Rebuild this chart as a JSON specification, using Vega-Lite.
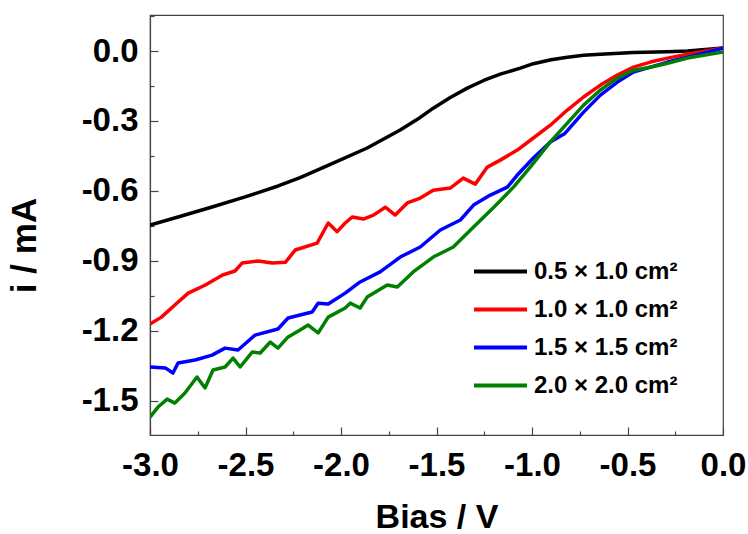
{
  "$schema": "https://vega.github.io/schema/vega-lite/v6.json",
  "width": 573,
  "height": 420,
  "autosize": "none",
  "padding": {"left": 150, "top": 15, "right": 25, "bottom": 99},
  "background": "white",
  "config": {
    "view": {"stroke": "#444444", "strokeWidth": 1.2},
    "font": "Liberation Sans"
  },
  "datasets": {
    "curves": [
      {"v": -3.0, "i": -0.747, "s": "0.5 × 1.0 cm²"},
      {"v": -2.853, "i": -0.712, "s": "0.5 × 1.0 cm²"},
      {"v": -2.675, "i": -0.669, "s": "0.5 × 1.0 cm²"},
      {"v": -2.502, "i": -0.626, "s": "0.5 × 1.0 cm²"},
      {"v": -2.329, "i": -0.579, "s": "0.5 × 1.0 cm²"},
      {"v": -2.214, "i": -0.543, "s": "0.5 × 1.0 cm²"},
      {"v": -2.041, "i": -0.481, "s": "0.5 × 1.0 cm²"},
      {"v": -1.863, "i": -0.416, "s": "0.5 × 1.0 cm²"},
      {"v": -1.69, "i": -0.339, "s": "0.5 × 1.0 cm²"},
      {"v": -1.6, "i": -0.293, "s": "0.5 × 1.0 cm²"},
      {"v": -1.517, "i": -0.245, "s": "0.5 × 1.0 cm²"},
      {"v": -1.43, "i": -0.2, "s": "0.5 × 1.0 cm²"},
      {"v": -1.339, "i": -0.159, "s": "0.5 × 1.0 cm²"},
      {"v": -1.25, "i": -0.125, "s": "0.5 × 1.0 cm²"},
      {"v": -1.166, "i": -0.099, "s": "0.5 × 1.0 cm²"},
      {"v": -1.061, "i": -0.073, "s": "0.5 × 1.0 cm²"},
      {"v": -0.993, "i": -0.054, "s": "0.5 × 1.0 cm²"},
      {"v": -0.9, "i": -0.037, "s": "0.5 × 1.0 cm²"},
      {"v": -0.815, "i": -0.026, "s": "0.5 × 1.0 cm²"},
      {"v": -0.73, "i": -0.018, "s": "0.5 × 1.0 cm²"},
      {"v": -0.642, "i": -0.013, "s": "0.5 × 1.0 cm²"},
      {"v": -0.469, "i": -0.006, "s": "0.5 × 1.0 cm²"},
      {"v": -0.29, "i": -0.003, "s": "0.5 × 1.0 cm²"},
      {"v": -0.186, "i": 0.0, "s": "0.5 × 1.0 cm²"},
      {"v": 0.0, "i": 0.013, "s": "0.5 × 1.0 cm²"},

      {"v": -3.0, "i": -1.172, "s": "1.0 × 1.0 cm²"},
      {"v": -2.94, "i": -1.142, "s": "1.0 × 1.0 cm²"},
      {"v": -2.87, "i": -1.09, "s": "1.0 × 1.0 cm²"},
      {"v": -2.8, "i": -1.039, "s": "1.0 × 1.0 cm²"},
      {"v": -2.71, "i": -1.004, "s": "1.0 × 1.0 cm²"},
      {"v": -2.62, "i": -0.961, "s": "1.0 × 1.0 cm²"},
      {"v": -2.555, "i": -0.944, "s": "1.0 × 1.0 cm²"},
      {"v": -2.518, "i": -0.91, "s": "1.0 × 1.0 cm²"},
      {"v": -2.434, "i": -0.901, "s": "1.0 × 1.0 cm²"},
      {"v": -2.36, "i": -0.91, "s": "1.0 × 1.0 cm²"},
      {"v": -2.29, "i": -0.906, "s": "1.0 × 1.0 cm²"},
      {"v": -2.24, "i": -0.854, "s": "1.0 × 1.0 cm²"},
      {"v": -2.125, "i": -0.824, "s": "1.0 × 1.0 cm²"},
      {"v": -2.067, "i": -0.738, "s": "1.0 × 1.0 cm²"},
      {"v": -2.02, "i": -0.775, "s": "1.0 × 1.0 cm²"},
      {"v": -1.978, "i": -0.738, "s": "1.0 × 1.0 cm²"},
      {"v": -1.941, "i": -0.712, "s": "1.0 × 1.0 cm²"},
      {"v": -1.883, "i": -0.721, "s": "1.0 × 1.0 cm²"},
      {"v": -1.83, "i": -0.704, "s": "1.0 × 1.0 cm²"},
      {"v": -1.768, "i": -0.67, "s": "1.0 × 1.0 cm²"},
      {"v": -1.716, "i": -0.704, "s": "1.0 × 1.0 cm²"},
      {"v": -1.653, "i": -0.652, "s": "1.0 × 1.0 cm²"},
      {"v": -1.585, "i": -0.631, "s": "1.0 × 1.0 cm²"},
      {"v": -1.517, "i": -0.597, "s": "1.0 × 1.0 cm²"},
      {"v": -1.428, "i": -0.588, "s": "1.0 × 1.0 cm²"},
      {"v": -1.36, "i": -0.545, "s": "1.0 × 1.0 cm²"},
      {"v": -1.297, "i": -0.571, "s": "1.0 × 1.0 cm²"},
      {"v": -1.234, "i": -0.498, "s": "1.0 × 1.0 cm²"},
      {"v": -1.166, "i": -0.468, "s": "1.0 × 1.0 cm²"},
      {"v": -1.077, "i": -0.425, "s": "1.0 × 1.0 cm²"},
      {"v": -0.993, "i": -0.373, "s": "1.0 × 1.0 cm²"},
      {"v": -0.904, "i": -0.318, "s": "1.0 × 1.0 cm²"},
      {"v": -0.815, "i": -0.253, "s": "1.0 × 1.0 cm²"},
      {"v": -0.73, "i": -0.197, "s": "1.0 × 1.0 cm²"},
      {"v": -0.642, "i": -0.146, "s": "1.0 × 1.0 cm²"},
      {"v": -0.553, "i": -0.103, "s": "1.0 × 1.0 cm²"},
      {"v": -0.469, "i": -0.069, "s": "1.0 × 1.0 cm²"},
      {"v": -0.38, "i": -0.047, "s": "1.0 × 1.0 cm²"},
      {"v": -0.29, "i": -0.03, "s": "1.0 × 1.0 cm²"},
      {"v": -0.186, "i": -0.013, "s": "1.0 × 1.0 cm²"},
      {"v": 0.0, "i": 0.013, "s": "1.0 × 1.0 cm²"},

      {"v": -3.0, "i": -1.356, "s": "1.5 × 1.5 cm²"},
      {"v": -2.92, "i": -1.36, "s": "1.5 × 1.5 cm²"},
      {"v": -2.88, "i": -1.382, "s": "1.5 × 1.5 cm²"},
      {"v": -2.853, "i": -1.339, "s": "1.5 × 1.5 cm²"},
      {"v": -2.764, "i": -1.326, "s": "1.5 × 1.5 cm²"},
      {"v": -2.675, "i": -1.305, "s": "1.5 × 1.5 cm²"},
      {"v": -2.607, "i": -1.275, "s": "1.5 × 1.5 cm²"},
      {"v": -2.539, "i": -1.283, "s": "1.5 × 1.5 cm²"},
      {"v": -2.45, "i": -1.219, "s": "1.5 × 1.5 cm²"},
      {"v": -2.33, "i": -1.193, "s": "1.5 × 1.5 cm²"},
      {"v": -2.277, "i": -1.146, "s": "1.5 × 1.5 cm²"},
      {"v": -2.151, "i": -1.12, "s": "1.5 × 1.5 cm²"},
      {"v": -2.12, "i": -1.082, "s": "1.5 × 1.5 cm²"},
      {"v": -2.067, "i": -1.086, "s": "1.5 × 1.5 cm²"},
      {"v": -1.978, "i": -1.039, "s": "1.5 × 1.5 cm²"},
      {"v": -1.9, "i": -0.991, "s": "1.5 × 1.5 cm²"},
      {"v": -1.795, "i": -0.948, "s": "1.5 × 1.5 cm²"},
      {"v": -1.69, "i": -0.884, "s": "1.5 × 1.5 cm²"},
      {"v": -1.585, "i": -0.841, "s": "1.5 × 1.5 cm²"},
      {"v": -1.48, "i": -0.768, "s": "1.5 × 1.5 cm²"},
      {"v": -1.375, "i": -0.725, "s": "1.5 × 1.5 cm²"},
      {"v": -1.306, "i": -0.661, "s": "1.5 × 1.5 cm²"},
      {"v": -1.218, "i": -0.618, "s": "1.5 × 1.5 cm²"},
      {"v": -1.129, "i": -0.584, "s": "1.5 × 1.5 cm²"},
      {"v": -1.077, "i": -0.532, "s": "1.5 × 1.5 cm²"},
      {"v": -0.993, "i": -0.459, "s": "1.5 × 1.5 cm²"},
      {"v": -0.904, "i": -0.39, "s": "1.5 × 1.5 cm²"},
      {"v": -0.83, "i": -0.355, "s": "1.5 × 1.5 cm²"},
      {"v": -0.73, "i": -0.262, "s": "1.5 × 1.5 cm²"},
      {"v": -0.642, "i": -0.189, "s": "1.5 × 1.5 cm²"},
      {"v": -0.553, "i": -0.133, "s": "1.5 × 1.5 cm²"},
      {"v": -0.469, "i": -0.09, "s": "1.5 × 1.5 cm²"},
      {"v": -0.38, "i": -0.069, "s": "1.5 × 1.5 cm²"},
      {"v": -0.29, "i": -0.047, "s": "1.5 × 1.5 cm²"},
      {"v": -0.186, "i": -0.026, "s": "1.5 × 1.5 cm²"},
      {"v": 0.0, "i": 0.013, "s": "1.5 × 1.5 cm²"},

      {"v": -3.0, "i": -1.571, "s": "2.0 × 2.0 cm²"},
      {"v": -2.958, "i": -1.528, "s": "2.0 × 2.0 cm²"},
      {"v": -2.91, "i": -1.494, "s": "2.0 × 2.0 cm²"},
      {"v": -2.87, "i": -1.511, "s": "2.0 × 2.0 cm²"},
      {"v": -2.817, "i": -1.468, "s": "2.0 × 2.0 cm²"},
      {"v": -2.754, "i": -1.399, "s": "2.0 × 2.0 cm²"},
      {"v": -2.712, "i": -1.446, "s": "2.0 × 2.0 cm²"},
      {"v": -2.67, "i": -1.369, "s": "2.0 × 2.0 cm²"},
      {"v": -2.607, "i": -1.356, "s": "2.0 × 2.0 cm²"},
      {"v": -2.565, "i": -1.318, "s": "2.0 × 2.0 cm²"},
      {"v": -2.528, "i": -1.356, "s": "2.0 × 2.0 cm²"},
      {"v": -2.465, "i": -1.292, "s": "2.0 × 2.0 cm²"},
      {"v": -2.423, "i": -1.296, "s": "2.0 × 2.0 cm²"},
      {"v": -2.37, "i": -1.249, "s": "2.0 × 2.0 cm²"},
      {"v": -2.33, "i": -1.275, "s": "2.0 × 2.0 cm²"},
      {"v": -2.277, "i": -1.227, "s": "2.0 × 2.0 cm²"},
      {"v": -2.214, "i": -1.197, "s": "2.0 × 2.0 cm²"},
      {"v": -2.172, "i": -1.176, "s": "2.0 × 2.0 cm²"},
      {"v": -2.12, "i": -1.21, "s": "2.0 × 2.0 cm²"},
      {"v": -2.067, "i": -1.142, "s": "2.0 × 2.0 cm²"},
      {"v": -1.978, "i": -1.103, "s": "2.0 × 2.0 cm²"},
      {"v": -1.952, "i": -1.082, "s": "2.0 × 2.0 cm²"},
      {"v": -1.9, "i": -1.103, "s": "2.0 × 2.0 cm²"},
      {"v": -1.863, "i": -1.056, "s": "2.0 × 2.0 cm²"},
      {"v": -1.758, "i": -1.004, "s": "2.0 × 2.0 cm²"},
      {"v": -1.705, "i": -1.013, "s": "2.0 × 2.0 cm²"},
      {"v": -1.622, "i": -0.948, "s": "2.0 × 2.0 cm²"},
      {"v": -1.517, "i": -0.884, "s": "2.0 × 2.0 cm²"},
      {"v": -1.412, "i": -0.841, "s": "2.0 × 2.0 cm²"},
      {"v": -1.306, "i": -0.755, "s": "2.0 × 2.0 cm²"},
      {"v": -1.2, "i": -0.67, "s": "2.0 × 2.0 cm²"},
      {"v": -1.097, "i": -0.584, "s": "2.0 × 2.0 cm²"},
      {"v": -1.008, "i": -0.497, "s": "2.0 × 2.0 cm²"},
      {"v": -0.904, "i": -0.39, "s": "2.0 × 2.0 cm²"},
      {"v": -0.815, "i": -0.309, "s": "2.0 × 2.0 cm²"},
      {"v": -0.73, "i": -0.232, "s": "2.0 × 2.0 cm²"},
      {"v": -0.642, "i": -0.167, "s": "2.0 × 2.0 cm²"},
      {"v": -0.553, "i": -0.116, "s": "2.0 × 2.0 cm²"},
      {"v": -0.469, "i": -0.082, "s": "2.0 × 2.0 cm²"},
      {"v": -0.38, "i": -0.069, "s": "2.0 × 2.0 cm²"},
      {"v": -0.29, "i": -0.052, "s": "2.0 × 2.0 cm²"},
      {"v": -0.186, "i": -0.03, "s": "2.0 × 2.0 cm²"},
      {"v": 0.0, "i": -0.004, "s": "2.0 × 2.0 cm²"}
    ]
  },
  "data": {"name": "curves"},
  "mark": {"type": "line", "strokeWidth": 3.5, "clip": true, "strokeJoin": "round"},
  "encoding": {
    "x": {
      "field": "v", "type": "quantitative",
      "scale": {"domain": [-3, 0], "nice": false, "zero": false},
      "axis": {
        "title": "Bias / V",
        "values": [-3, -2.75, -2.5, -2.25, -2, -1.75, -1.5, -1.25, -1, -0.75, -0.5, -0.25, 0],
        "labelExpr": "abs(datum.value*2 - round(datum.value*2)) < 0.001 ? replace(format(datum.value, '.1f'), '\u2212', '-') : ''",
        "grid": false,
        "domainColor": "#444444",
        "domainWidth": 1.2,
        "tickColor": "#444444",
        "tickWidth": 1.2,
        "tickSize": {"condition": {"test": "abs(datum.value*2 - round(datum.value*2)) < 0.001", "value": -8}, "value": -4},
        "labelPadding": 22,
        "labelFont": "Liberation Sans",
        "labelFontSize": 33,
        "labelFontWeight": "bold",
        "labelColor": "black",
        "labelFlush": false,
        "labelOverlap": false,
        "titleFont": "Liberation Sans",
        "titleFontSize": 34,
        "titleFontWeight": "bold",
        "titleColor": "black",
        "titleBaseline": "alphabetic",
        "titleY": 92
      }
    },
    "y": {
      "field": "i", "type": "quantitative",
      "scale": {"domain": [-1.648, 0.155], "nice": false, "zero": false},
      "axis": {
        "title": "i / mA",
        "values": [-1.65, -1.5, -1.35, -1.2, -1.05, -0.9, -0.75, -0.6, -0.45, -0.3, -0.15, 0, 0.15],
        "labelExpr": "abs(datum.value/0.3 - round(datum.value/0.3)) < 0.001 ? replace(format(datum.value, '.1f'), '\u2212', '-') : ''",
        "grid": false,
        "domainColor": "#444444",
        "domainWidth": 1.2,
        "tickColor": "#444444",
        "tickWidth": 1.2,
        "tickSize": {"condition": {"test": "abs(datum.value/0.3 - round(datum.value/0.3)) < 0.001", "value": -8}, "value": -4},
        "labelPadding": 20,
        "labelFont": "Liberation Sans",
        "labelFontSize": 33,
        "labelFontWeight": "bold",
        "labelColor": "black",
        "labelFlush": false,
        "labelOverlap": false,
        "titleFont": "Liberation Sans",
        "titleFontSize": 35,
        "titleFontWeight": "bold",
        "titleColor": "black",
        "titleX": -108,
        "titleY": 230
      }
    },
    "color": {
      "field": "s", "type": "nominal",
      "scale": {
        "domain": ["0.5 × 1.0 cm²", "1.0 × 1.0 cm²", "1.5 × 1.5 cm²", "2.0 × 2.0 cm²"],
        "range": ["#000000", "#ff0000", "#0000ff", "#008000"]
      },
      "legend": {
        "title": null,
        "orient": "none",
        "legendX": 322,
        "legendY": 243,
        "symbolType": "stroke",
        "symbolSize": 2809,
        "symbolStrokeWidth": 4,
        "clipHeight": 27,
        "labelFont": "Liberation Sans",
        "labelFontSize": 24,
        "labelFontWeight": "bold",
        "labelColor": "black",
        "labelOffset": 5,
        "labelLimit": 400,
        "rowPadding": 11,
        "padding": 0
      }
    },
    "order": {"field": "v", "type": "quantitative"}
  }
}
